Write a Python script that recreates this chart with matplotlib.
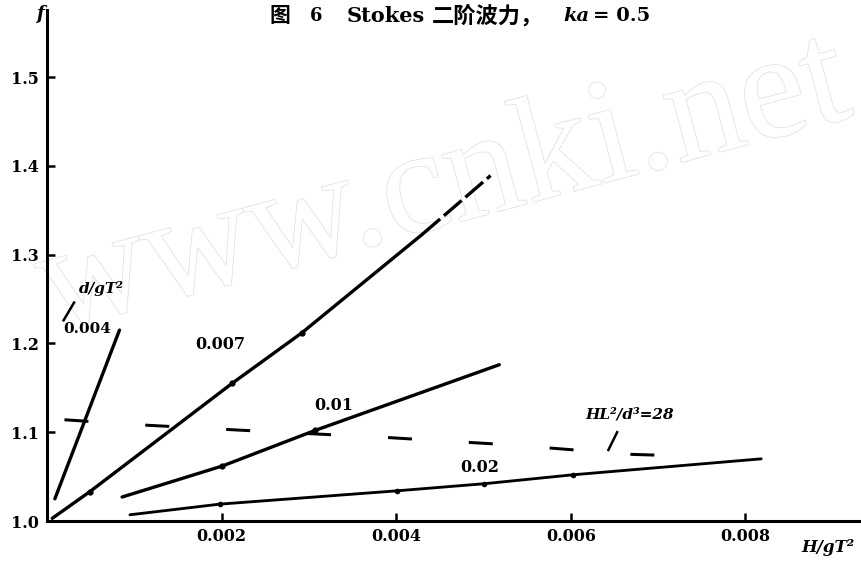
import matplotlib
matplotlib.use('Agg')
import matplotlib.pyplot as plt
import matplotlib.patheffects as pe

plt.rcParams['font.family'] = ['DejaVu Serif', 'Noto Sans CJK SC']
plt.rcParams['font.weight'] = 'bold'

# d/gT^2 = 0.004
A_X = [0.00009, 0.00083]
A_F = [1.025, 1.215]

# d/gT^2 = 0.007, solid part then dashed extension
B_X = [0.00006, 0.00049, 0.00212, 0.00292, 0.0043]
B_F = [1.003, 1.033, 1.155, 1.212, 1.323]
B_EXT_X = [0.0043, 0.00508]
B_EXT_F = [1.323, 1.389]

# d/gT^2 = 0.01
C_X = [0.00086, 0.00201, 0.00307, 0.00518]
C_F = [1.027, 1.062, 1.102, 1.176]

# d/gT^2 = 0.02
D_X = [0.00095, 0.00198, 0.00401, 0.00501, 0.00602, 0.00818]
D_F = [1.007, 1.019, 1.034, 1.042, 1.052, 1.070]

# HL^2/d^3 = 28 (dashed)
HL_X = [0.0002, 0.00112, 0.00227, 0.0039, 0.00526, 0.0067, 0.00705]
HL_F = [1.114, 1.108, 1.102, 1.094, 1.086, 1.075, 1.074]

Y_TICKS = [1.0, 1.1, 1.2, 1.3, 1.4, 1.5]
Y_LABELS = ['1.0', '1.1', '1.2', '1.3', '1.4', '1.5']
X_TICKS = [0.002, 0.004, 0.006, 0.008]
X_LABELS = ['0.002', '0.004', '0.006', '0.008']

LW = 2.4

fig = plt.figure(figsize=(8.62, 5.62), dpi=100)
fig.patch.set_facecolor('white')
ax = fig.add_axes([47 / 862, 41 / 562, 812 / 862, 511 / 562])
ax.patch.set_alpha(0)

# watermark
fig.text(0.515, 0.665, 'www.cnki.net', family='Liberation Serif', weight='normal',
         fontsize=108, rotation=15, ha='center', va='center', color='white',
         zorder=-1,
         path_effects=[pe.withStroke(linewidth=1.1, foreground='#e0e0e0')])

ax.plot(A_X, A_F, color='black', lw=LW, solid_capstyle='round')
ax.plot(B_X, B_F, color='black', lw=LW, marker='o', ms=3.5, markevery=[1, 2, 3],
        solid_capstyle='round')
ax.plot(B_EXT_X, B_EXT_F, color='black', lw=LW, dashes=(7, 1.5))
ax.plot(C_X, C_F, color='black', lw=LW, marker='o', ms=3.5, markevery=[1, 2],
        solid_capstyle='round')
ax.plot(D_X, D_F, color='black', lw=LW * 0.85, marker='o', ms=3,
        markevery=[1, 2, 3, 4], solid_capstyle='round')
ax.plot(HL_X, HL_F, color='black', lw=LW * 0.9, dashes=(8, 19))

# curve labels
ax.text(0.00046, 1.216, '0.004', fontsize=11, ha='center', va='center')
ax.text(0.00037, 1.262, 'd/gT²', fontsize=11, style='italic', ha='left', va='center')
ax.plot([0.00019, 0.00031], [1.226, 1.246], color='black', lw=1.8)
ax.text(0.00198, 1.199, '0.007', fontsize=11.5, ha='center', va='center')
ax.text(0.00328, 1.130, '0.01', fontsize=11.5, ha='center', va='center')
ax.text(0.00496, 1.060, '0.02', fontsize=11.5, ha='center', va='center')
ax.text(0.00617, 1.120, 'HL²/d³=28', fontsize=11, style='italic', ha='left', va='center')
ax.plot([0.00653, 0.00643], [1.100, 1.080], color='black', lw=1.8)

ax.set_xlim(0, 0.0093)
ax.set_ylim(1.0, 1.5755)
ax.set_xticks(X_TICKS)
ax.set_xticklabels(X_LABELS)
ax.set_yticks(Y_TICKS)
ax.set_yticklabels(Y_LABELS)
for s in ['top', 'right']:
    ax.spines[s].set_visible(False)
for s in ['left', 'bottom']:
    ax.spines[s].set_linewidth(2.2)
ax.tick_params(direction='in', length=6, width=1.8, labelsize=11.5)
ax.tick_params(axis='y', pad=6)
ax.tick_params(axis='x', pad=5)

fig.text(40 / 862, 1 - 14 / 562, 'f', fontsize=13, style='italic', ha='center', va='center')
fig.text(828 / 862, 1 - 547 / 562, 'H/gT²', fontsize=12, style='italic', ha='center', va='center')

# title
ty = 1 - 16 / 562
fig.text(270 / 862, ty, '图', fontsize=15, ha='left', va='center')
fig.text(310 / 862, ty, '6', fontsize=13, ha='left', va='center')
fig.text(347 / 862, ty, 'Stokes', fontsize=15, ha='left', va='center')
fig.text(432 / 862, ty, '二阶波力，', fontsize=16, ha='left', va='center')
fig.text(563 / 862, ty, 'ka', fontsize=14, style='italic', ha='left', va='center')
fig.text(593 / 862, ty, '= 0.5', fontsize=14, ha='left', va='center')

fig.savefig('out.png', dpi=100, facecolor='white')
